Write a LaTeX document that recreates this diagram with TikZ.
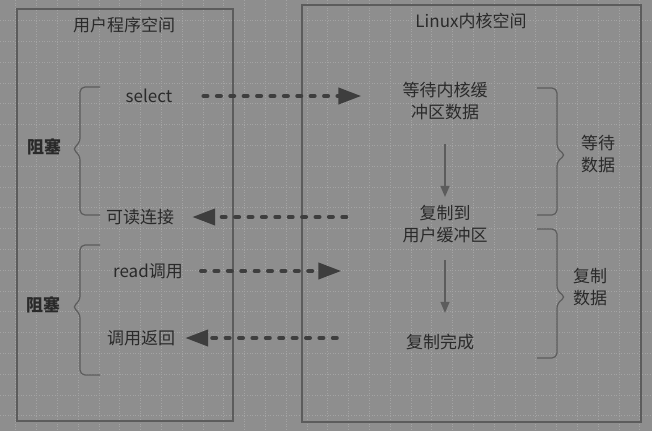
\documentclass[tikz,border=0pt]{standalone}
\usepackage{fontspec}
\setmainfont{Noto Sans CJK SC}
\usetikzlibrary{arrows.meta}
\definecolor{bggray}{HTML}{8E8E8E}
\definecolor{gridgray}{HTML}{A4A4A4}
\definecolor{boxgray}{HTML}{5C5C5C}
\definecolor{txtgray}{HTML}{2A2A2A}
\definecolor{dashgray}{HTML}{3E3E3E}

\begin{document}
\begin{tikzpicture}[x=1pt,y=-1pt,
  label node/.style={font=\fontsize{17}{22}\selectfont,text=txtgray,align=center,inner sep=0pt},
  space box/.style={draw=boxgray,line width=1.3pt},
  grid line/.style={draw=gridgray,line width=0.6pt,dash pattern=on 1pt off 1.6pt},
  brace line/.style={draw=boxgray,line width=1.2pt,rounded corners=5pt},
  call arrow/.style={draw=dashgray,line width=4pt,line cap=round,
    dash pattern=on 4pt off 9.4pt,-{Triangle[length=23pt,width=16pt]}},
  down arrow/.style={draw=boxgray,line width=1.3pt,-{Triangle[length=11pt,width=9pt]}}]
  % background and grid
  \fill[bggray] (0,0) rectangle (652,431);
  \useasboundingbox (0,0) rectangle (652,431);
  \foreach \i in {0,...,30}
    \draw[grid line] (15.7+20.8*\i,0) -- ++(0,431);
  \foreach \j in {1,...,20}
    \draw[grid line] (0,-0.3+20.8*\j) -- ++(652,0);
  % the two spaces
  \draw[space box] (17,9) rectangle (233,421);
  \draw[space box] (302,5) rectangle (641,422);
  \node[label node] (user)   at (124,25) {用户程序空间};
  \node[label node] (kernel) at (471,21) {Linux内核空间};
  % user side
  \node[label node] (select)   at (149,96)  {select};
  \node[label node] (readable) at (140,217) {可读连接};
  \node[label node] (readcall) at (148,271) {read调用};
  \node[label node] (callret)  at (141,338) {调用返回};
  \node[label node,font=\fontsize{17}{22}\selectfont\bfseries] (block1) at (44,147) {阻塞};
  \node[label node,font=\fontsize{17}{22}\selectfont\bfseries] (block2) at (43,305) {阻塞};
  % kernel side
  \node[label node] (waitbuf)  at (445,101) {等待内核缓\\冲区数据};
  \node[label node] (copyto)   at (445,224) {复制到\\用户缓冲区};
  \node[label node] (copydone) at (440,342) {复制完成};
  \node[label node] (waitdata) at (598,154) {等待\\数据};
  \node[label node] (copydata) at (590,287) {复制\\数据};
  % braces
  \draw[brace line] (100,87) -- (80,87) -- (80,143) -- (72,149) -- (80,155) -- (80,215) -- (100,215);
  \draw[brace line] (100,245) -- (80,245) -- (80,301) -- (72,307) -- (80,313) -- (80,375) -- (100,375);
  \draw[brace line] (537,88) -- (557,88) -- (557,149) -- (566,155) -- (557,161) -- (557,215) -- (537,215);
  \draw[brace line] (537,229) -- (557,229) -- (557,291) -- (566,297) -- (557,303) -- (557,358) -- (537,358);
  % calls between the spaces
  \draw[call arrow,shorten <=31pt,shorten >=41pt] (select.east) -- (select.east -| waitbuf.west);
  \draw[call arrow,shorten <=56pt,shorten >=18pt] (readable.east -| copyto.west) -- (readable.east);
  \draw[call arrow,shorten <=18pt,shorten >=61pt] (readcall.east) -- (readcall.east -| copyto.west);
  \draw[call arrow,shorten <=69pt,shorten >=10pt] (callret.east -| copydone.west) -- (callret.east);
  % steps in the kernel
  \draw[down arrow,shorten <=24pt,shorten >=8pt] (waitbuf.south) -- (copyto.north);
  \draw[down arrow,shorten <=17pt,shorten >=21pt] (copyto.south) -- (copyto.south |- copydone.north);
\end{tikzpicture}
\end{document}
